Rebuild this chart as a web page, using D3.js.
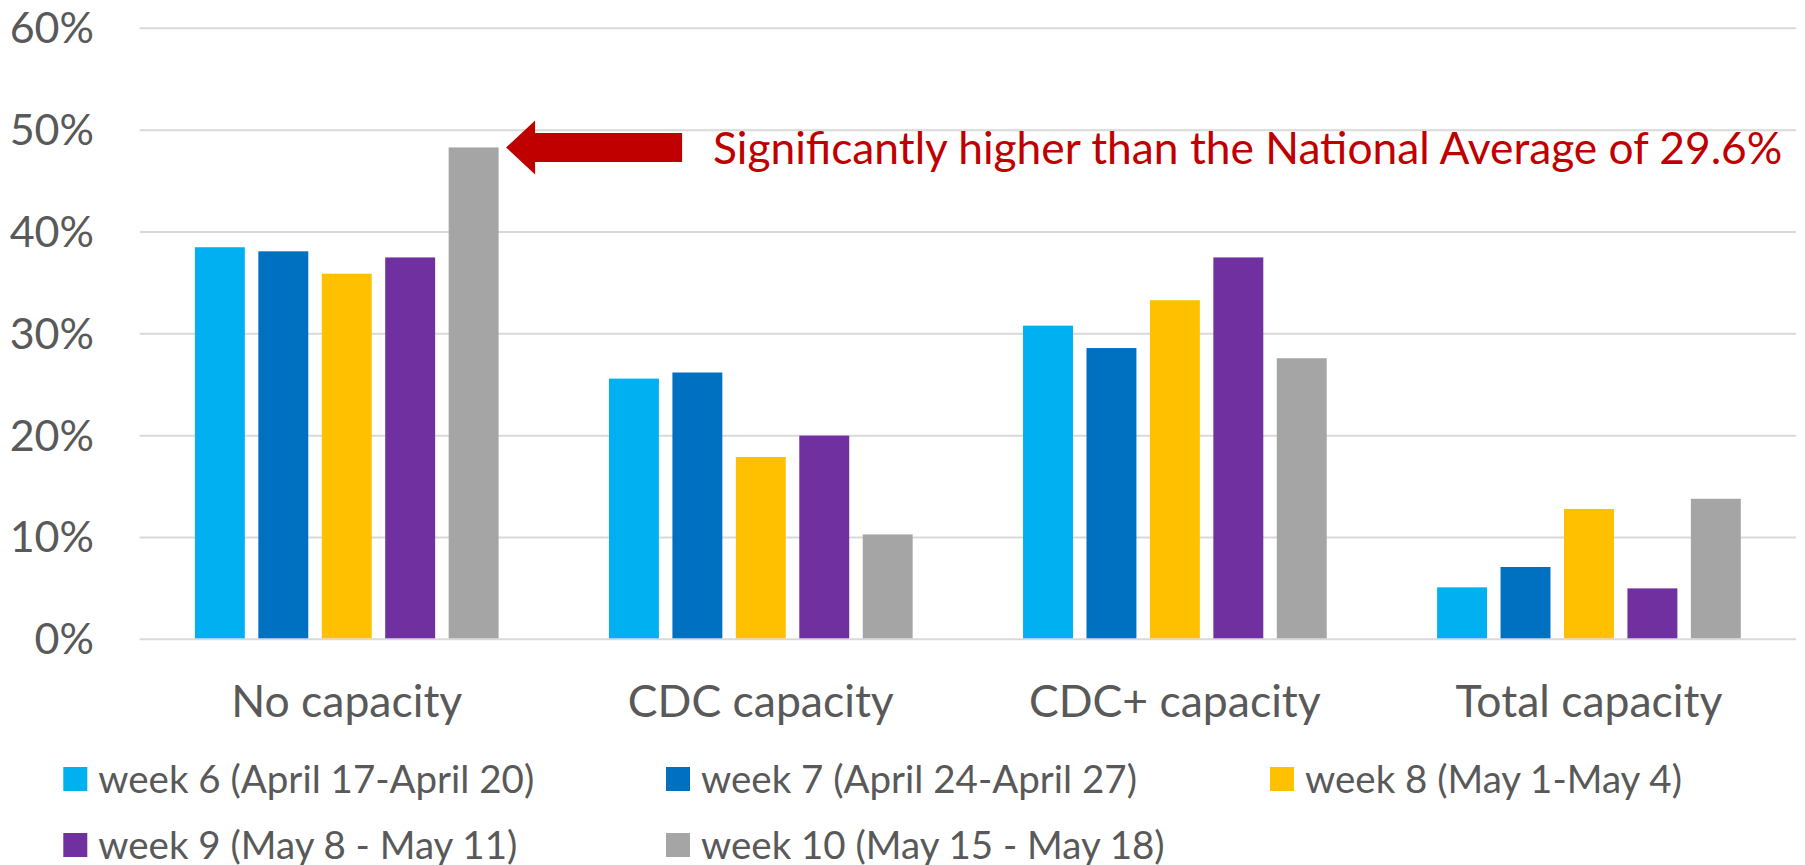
<!DOCTYPE html>
<html>
<head>
<meta charset="utf-8">
<script src="https://cdnjs.cloudflare.com/ajax/libs/d3/7.8.5/d3.min.js"></script>
<style>
  html, body { margin: 0; padding: 0; background: #fff; }
  svg text { font-family: Lato, "Open Sans", sans-serif; }
</style>
</head>
<body>
<svg class="chart" width="1805" height="865"></svg>
<script>
// chart data
var categories = ["No capacity", "CDC capacity", "CDC+ capacity", "Total capacity"];
var seriesNames = [
  "week 6 (April 17-April 20)",
  "week 7 (April 24-April 27)",
  "week 8 (May 1-May 4)",
  "week 9 (May 8 - May 11)",
  "week 10 (May 15 - May 18)"
];
var week6 = [38.5, 25.6, 30.8, 5.1];
var week7 = [38.1, 26.2, 28.6, 7.1];
var week8 = [35.9, 17.9, 33.3, 12.8];
var week9 = [37.5, 20.0, 37.5, 5.0];
var week10 = [48.3, 10.3, 27.6, 13.8];
var yTicks = [0, 10, 20, 30, 40, 50, 60];
var noteText = "Significantly higher than the National Average of 29.6%";

var palette = ["#00B0F0", "#0070C0", "#FFC000", "#7030A0", "#A5A5A5"];
var seriesValues = [week6, week7, week8, week9, week10];

var svg = d3.select("svg.chart");
var plot = {left: 139.7, right: 1796, top: 28.3, bottom: 639.3};

var x0 = d3.scaleBand().domain(categories).range([plot.left, plot.right]).padding(0);
var x1 = d3.scaleBand().domain(seriesNames).range([0, x0.bandwidth()])
  .paddingInner(0.213).paddingOuter(0.87);
var y = d3.scaleLinear().domain([0, 60]).range([plot.bottom, plot.top]);
var color = d3.scaleOrdinal().domain(seriesNames).range(palette);

// y labels
var yAxis = svg.append("g")
  .attr("class", "axis axis--y")
  .call(d3.axisLeft(y).tickValues(yTicks).tickSize(0)
    .tickFormat(function(d) { return d + "%"; }));
yAxis.select(".domain").remove();
yAxis.selectAll("text")
  .attr("x", 94)
  .attr("dy", null)
  .attr("y", 14.4)
  .style("font-size", "43px")
  .style("fill", "#595959")
  .style("text-anchor", "end");

// gridlines
svg.append("g").attr("class", "grid")
  .selectAll("line")
  .data(yTicks)
  .enter().append("line")
  .attr("x1", plot.left)
  .attr("x2", plot.right)
  .attr("y1", function(d) { return y(d); })
  .attr("y2", function(d) { return y(d); })
  .attr("stroke", "#D9D9D9")
  .attr("stroke-width", 2);

// bars
var groups = svg.append("g").selectAll("g")
  .data(categories)
  .enter().append("g")
  .attr("transform", function(d) { return "translate(" + x0(d) + ",0)"; });

groups.selectAll("rect")
  .data(function(d, i) {
    return seriesNames.map(function(s, j) { return {series: s, value: seriesValues[j][i]}; });
  })
  .enter().append("rect")
  .attr("x", function(d) { return x1(d.series); })
  .attr("y", function(d) { return y(d.value); })
  .attr("width", x1.bandwidth())
  .attr("height", function(d) { return y(0) - y(d.value) - 1; })
  .attr("fill", function(d) { return color(d.series); });

// category labels
svg.append("g").selectAll("text")
  .data(categories)
  .enter().append("text")
  .attr("x", function(d) { return x0(d) + x0.bandwidth() / 2; })
  .attr("y", 716.7)
  .attr("text-anchor", "middle")
  .style("font-size", "44.5px")
  .style("fill", "#595959")
  .text(function(d) { return d; });

// legend
var legendCols = [63.3, 666, 1270];
var legendRows = [779, 845];
var legend = svg.append("g").selectAll("g")
  .data(seriesNames)
  .enter().append("g")
  .attr("transform", function(d, i) {
    return "translate(" + legendCols[i % 3] + "," + legendRows[Math.floor(i / 3)] + ")";
  });
legend.append("rect")
  .attr("x", 0).attr("y", -12)
  .attr("width", 24).attr("height", 24)
  .attr("fill", function(d) { return color(d); });
legend.append("text")
  .attr("x", 35).attr("y", 13.5)
  .style("font-size", "38.5px")
  .style("fill", "#595959")
  .text(function(d) { return d; });

// annotation arrow pointing at the tallest bar
var tipX = x0(categories[0]) + x1(seriesNames[4]) + x1.bandwidth() + 7.5;
var tipY = y(week10[0]);
var arrow = [
  [0, 0], [29, -27], [29, -14.5], [176, -14.5], [176, 14.5], [29, 14.5], [29, 27]
];
svg.append("path")
  .attr("d", d3.line()(arrow.map(function(p) { return [tipX + p[0], tipY + p[1]]; })) + "Z")
  .attr("fill", "#C00000");

svg.append("text")
  .attr("x", 713)
  .attr("y", 164)
  .style("font-size", "44.3px")
  .style("fill", "#C00000")
  .text(noteText);
</script>
</body>
</html>
